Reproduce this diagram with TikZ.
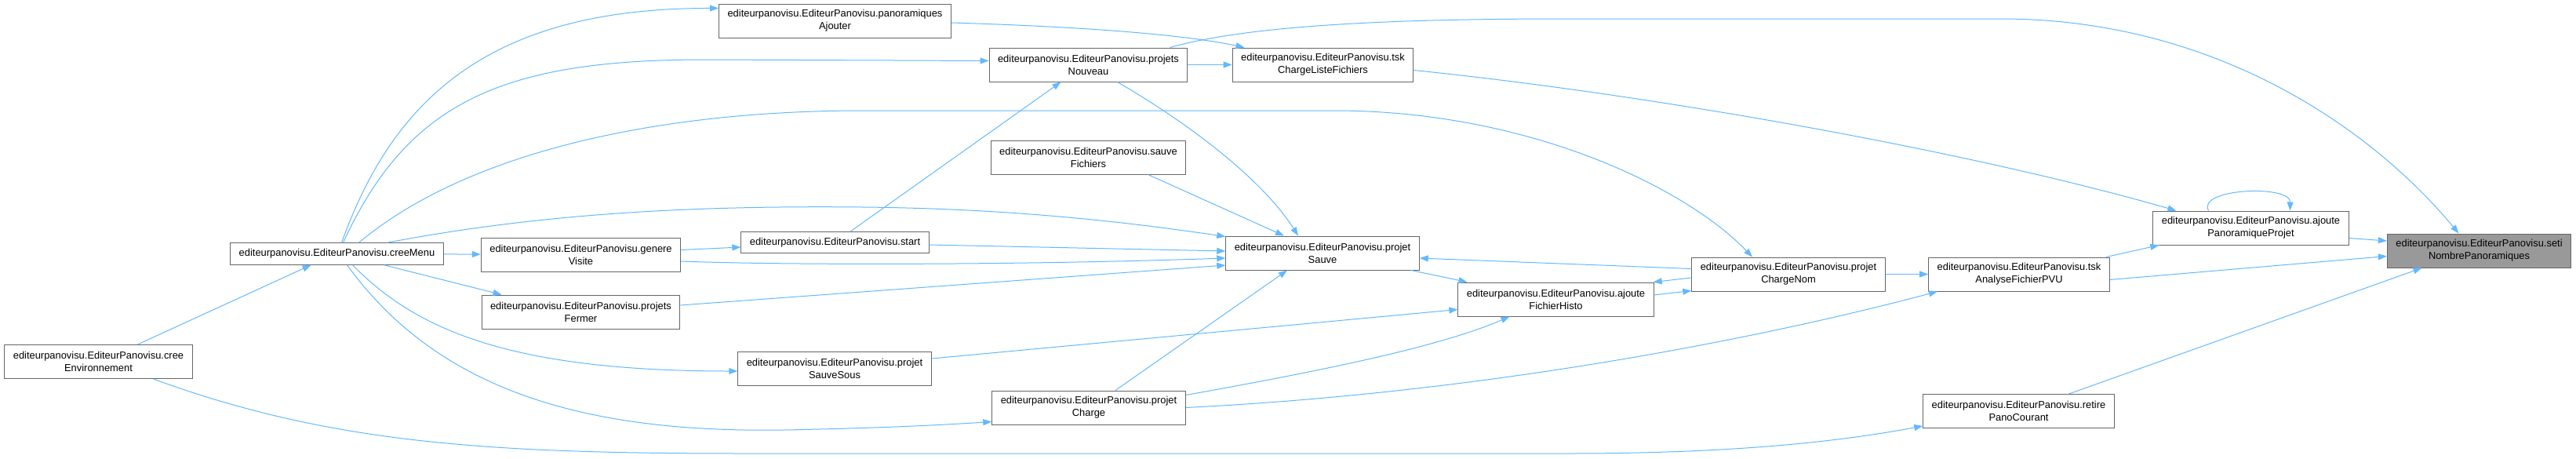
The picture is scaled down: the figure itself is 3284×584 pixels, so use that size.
\documentclass[tikz,border=0pt]{standalone}
\usepackage{fontspec}
\setmainfont{Liberation Sans}
\usepackage{tikz}
\usetikzlibrary{arrows.meta, positioning}
\definecolor{dxgrey}{HTML}{666666}
\definecolor{dxfill}{HTML}{999999}
\definecolor{dxblue}{HTML}{63B8FF}
\newcommand{\fnfont}{\fontsize{12.9}{16}\selectfont}

\begin{document}
\begin{tikzpicture}[
  x=1pt, y=-1pt,
  fn/.style={rectangle, draw=dxgrey, line width=1pt, fill=white,
             inner xsep=11pt, inner ysep=0pt, minimum height=43pt,
             align=center, font=\fnfont},
  fnone/.style={fn, minimum height=27.5pt},
  fnhi/.style={fn, fill=dxfill},
  call/.style={draw=dxblue, line width=1pt, -{Triangle[length=11pt, width=8pt]}}
]
  \useasboundingbox (0,0) rectangle (3284,584);
  % functions
  \node[fn]    (cenv)   at (125.5,461)  {editeurpanovisu.EditeurPanovisu.cree\\Environnement};
  \node[fnone] (cmenu)  at (429.5,323.5) {editeurpanovisu.EditeurPanovisu.creeMenu};
  \node[fn]    (pajout) at (1064.5,26.5) {editeurpanovisu.EditeurPanovisu.panoramiques\\Ajouter};
  \node[fn]    (gvis)   at (740.5,324.5) {editeurpanovisu.EditeurPanovisu.genere\\Visite};
  \node[fn]    (pferm)  at (740.5,397.5) {editeurpanovisu.EditeurPanovisu.projets\\Fermer};
  \node[fnone] (strt)   at (1064.5,309)  {editeurpanovisu.EditeurPanovisu.start};
  \node[fn]    (psous)  at (1064,469.5)  {editeurpanovisu.EditeurPanovisu.projet\\SauveSous};
  \node[fn]    (pnouv)  at (1387.5,82.5) {editeurpanovisu.EditeurPanovisu.projets\\Nouveau};
  \node[fn]    (sfich)  at (1387.5,200.5) {editeurpanovisu.EditeurPanovisu.sauve\\Fichiers};
  \node[fn]    (pchg)   at (1388,519.5)  {editeurpanovisu.EditeurPanovisu.projet\\Charge};
  \node[fn]    (psauve) at (1686,322.5)  {editeurpanovisu.EditeurPanovisu.projet\\Sauve};
  \node[fn]    (tclf)   at (1686.5,82.5) {editeurpanovisu.EditeurPanovisu.tsk\\ChargeListeFichiers};
  \node[fn]    (afh)    at (1983.5,381.5) {editeurpanovisu.EditeurPanovisu.ajoute\\FichierHisto};
  \node[fn]    (pcnom)  at (2280,349.5)  {editeurpanovisu.EditeurPanovisu.projet\\ChargeNom};
  \node[fn]    (tafp)   at (2574,349.5)  {editeurpanovisu.EditeurPanovisu.tsk\\AnalyseFichierPVU};
  \node[fn]    (rpc)    at (2573.5,524)  {editeurpanovisu.EditeurPanovisu.retire\\PanoCourant};
  \node[fn]    (app)    at (2869.5,290.5) {editeurpanovisu.EditeurPanovisu.ajoute\\PanoramiqueProjet};
  \node[fnhi]  (setn)   at (3160.5,319.5) {editeurpanovisu.EditeurPanovisu.seti\\NombrePanoramiques};

  % calls
  \draw[call] ([xshift=50pt]cenv.north) -- ([xshift=-33pt]cmenu.south);
  \draw[call] ([xshift=70pt]cenv.south) .. controls (420,565) and (620,578) .. (950,578)
              -- (2000,578) .. controls (2250,578) and (2380,556) .. ([yshift=-19pt]rpc.west);
  \draw[call] ([xshift=6pt]cmenu.north) .. controls (500,130) and (620,10) .. ([yshift=16pt]pajout.west);
  \draw[call] ([xshift=8pt]cmenu.north) .. controls (520,130) and (640,76) .. (900,76) -- ([yshift=5pt]pnouv.west);
  \draw[call] ([xshift=28pt]cmenu.north) .. controls (600,190) and (850,141) .. (1100,141)
              -- (1700,141) .. controls (1950,141) and (2150,240) .. ([xshift=-46pt]pcnom.north);
  \draw[call] ([xshift=64pt]cmenu.north) .. controls (700,270) and (900,262) .. (1100,264)
              .. controls (1300,266) and (1450,285) .. ([yshift=21pt]psauve.west);
  \draw[call] (cmenu) -- (gvis);
  \draw[call] ([xshift=60pt]cmenu.south) -- ([xshift=-101pt]pferm.north);
  \draw[call] ([xshift=20pt]cmenu.south) .. controls (530,420) and (650,473) .. ([yshift=-3.5pt]psous.west);
  \draw[call] ([xshift=13pt]cmenu.south) .. controls (560,500) and (750,552) .. (1000,548)
              .. controls (1100,546) and (1180,543) .. ([yshift=-18pt]pchg.west);
  \draw[call] ([yshift=6pt]gvis.east) -- ([yshift=-6pt]strt.west);
  \draw[call] ([yshift=-8.5pt]gvis.east) .. controls (1000,338) and (1300,338) .. ([yshift=-6.5pt]psauve.west);
  \draw[call] ([yshift=8.5pt]pferm.east) -- ([yshift=-15.5pt]psauve.west);
  \draw[call] ([xshift=20pt]strt.north) -- ([xshift=-35pt]pnouv.south);
  \draw[call] ([yshift=-3pt]strt.east) -- ([yshift=2.5pt]psauve.west);
  \draw[call] ([yshift=-2.5pt]pajout.east) .. controls (1350,33) and (1500,42) .. ([xshift=-100pt]tclf.north);
  \draw[call] (pnouv) -- (tclf);
  \draw[call] ([xshift=37pt]pnouv.south) .. controls (1520,160) and (1610,230) .. ([xshift=-31pt]psauve.north);
  \draw[call] ([xshift=104pt]pnouv.north) .. controls (1600,30) and (1800,24) .. (2000,24)
              -- (2550,24) .. controls (2820,24) and (3020,160) .. ([xshift=-26pt]setn.north);
  \draw[call] ([xshift=76pt]sfich.south) -- ([xshift=-49pt]psauve.north);
  \draw[call] ([yshift=12.5pt]psous.east) -- ([yshift=-13pt]afh.west);
  \draw[call] ([xshift=34pt]pchg.north) -- ([xshift=-45pt]psauve.south);
  \draw[call] ([yshift=16pt]pchg.east) .. controls (1700,470) and (1840,440) .. ([xshift=-59pt]afh.south);
  \draw[call] (pchg.east) .. controls (1900,500) and (2250,430) .. ([xshift=-104pt]tafp.south);
  \draw[call] ([xshift=113pt]psauve.south) -- ([xshift=-113pt]afh.north);
  \draw[call] ([yshift=-7pt]tclf.east) .. controls (2100,120) and (2500,190) .. ([xshift=-95pt]app.north);
  \draw[call] ([yshift=5.5pt]afh.east) -- ([yshift=-21pt]pcnom.west);
  \draw[call] ([yshift=-4.5pt]pcnom.west) -- ([xshift=-1pt]afh.north east);
  \draw[call] ([yshift=7pt]pcnom.west) -- ([yshift=-6.5pt]psauve.east);
  \draw[call] (pcnom) -- (tafp);
  \draw[call] ([xshift=111pt]tafp.north) -- ([xshift=8pt]app.south west);
  \draw[call] ([yshift=-7pt]tafp.east) -- ([yshift=-7pt]setn.west);
  \draw[call] ([xshift=-54pt]app.north) .. controls (2800,240) and (2920,235) .. ([xshift=50pt]app.north);
  \draw[call] ([yshift=-13pt]app.east) -- ([yshift=12.5pt]setn.west);
  \draw[call] ([xshift=64pt]rpc.north) -- ([xshift=-73pt]setn.south);
\end{tikzpicture}
\end{document}
